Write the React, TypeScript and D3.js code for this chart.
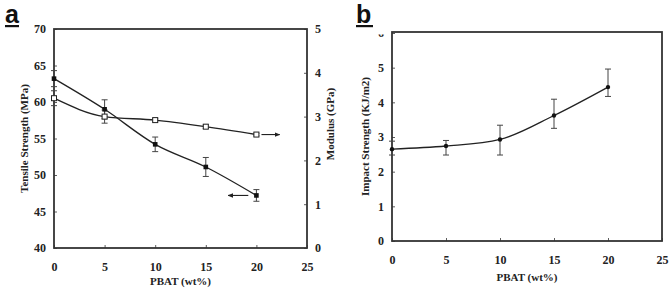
import React, { useRef, useEffect } from "react";
import * as d3 from "d3";

// PBAT content (wt%)
const pbat = [0, 5, 10, 15, 20];

// panel a: tensile strength (MPa, left axis) and modulus (GPa, right axis)
const tensile = [63.2, 59.0, 54.2, 51.1, 47.2];
const tensileErr = [1.1, 1.3, 1.0, 1.3, 0.8];
const modulus = [3.42, 3.0, 2.92, 2.77, 2.59];
const modulusErr = [0.17, 0.15, 0.04, 0.04, 0.03];

// panel b: impact strength (KJ/m2)
const impact = [2.65, 2.74, 2.93, 3.62, 4.44];
const impactHi = [2.88, 2.9, 3.34, 4.09, 4.96];
const impactLo = [2.48, 2.48, 2.48, 3.25, 4.17];

const pbatTicks = [0, 5, 10, 15, 20, 25];
const tensileTicks = [40, 45, 50, 55, 60, 65, 70];
const modulusTicks = [0, 1, 2, 3, 4, 5];
const impactTicks = [0, 1, 2, 3, 4, 5, 6];

const W = 672;
const H = 289;
const ink = "#222";
const frame = "#333";
const serif = "Liberation Serif";
const fmt = d3.format("d");

const App = () => {
  const svgRef = useRef<SVGSVGElement>(null);

  useEffect(() => {
    const svg = d3.select(svgRef.current).attr("width", W).attr("height", H);
    svg.selectAll("*").remove();
    svg.append("rect").attr("width", W).attr("height", H).attr("fill", "#fff");

    const defs = svg.append("defs");
    defs
      .append("marker")
      .attr("id", "head")
      .attr("viewBox", "0 0 10 10")
      .attr("refX", 9)
      .attr("refY", 5)
      .attr("markerWidth", 5)
      .attr("markerHeight", 5)
      .attr("orient", "auto")
      .append("path")
      .attr("d", "M0,1 L10,5 L0,9 Z")
      .attr("fill", ink);

    const panelLabel = (x: number, y: number, t: string, w: number) => {
      svg
        .append("text")
        .attr("x", x)
        .attr("y", y)
        .style("font-family", "Liberation Sans")
        .style("font-weight", "bold")
        .style("font-size", "25px")
        .attr("fill", "#111")
        .text(t);
      svg
        .append("rect")
        .attr("x", x)
        .attr("y", y + 2)
        .attr("width", w)
        .attr("height", 2.2)
        .attr("fill", "#111");
    };

    const frameBox = (g: any, x0: number, x1: number, y0: number, y1: number) => {
      g.append("rect")
        .attr("x", x0)
        .attr("y", y0)
        .attr("width", x1 - x0)
        .attr("height", y1 - y0)
        .attr("fill", "none")
        .attr("stroke", frame)
        .attr("stroke-width", 1.8);
    };

    const styleAxis = (g: any) => {
      g.attr("font-family", null).attr("font-size", null);
      g.select(".domain").remove();
      g.selectAll(".tick line").attr("stroke", frame).attr("stroke-width", 0.8);
      g.selectAll(".tick text")
        .style("font-family", serif)
        .style("font-weight", "bold")
        .style("font-size", "12px")
        .attr("fill", ink);
    };

    const errorBars = (
      g: any,
      xs: number[],
      lo: number[],
      hi: number[],
      x: any,
      y: any
    ) => {
      xs.forEach((v, i) => {
        const cx = x(v);
        g.append("line")
          .attr("x1", cx)
          .attr("x2", cx)
          .attr("y1", y(lo[i]))
          .attr("y2", y(hi[i]))
          .attr("stroke", "#444")
          .attr("stroke-width", 1);
        [lo[i], hi[i]].forEach((e) => {
          g.append("line")
            .attr("x1", cx - 3)
            .attr("x2", cx + 3)
            .attr("y1", y(e))
            .attr("y2", y(e))
            .attr("stroke", "#444")
            .attr("stroke-width", 1);
        });
      });
    };

    const axisTitle = (g: any, t: string, tx: number, ty: number, rot: number) =>
      g
        .append("text")
        .attr("transform", `translate(${tx},${ty}) rotate(${rot})`)
        .attr("text-anchor", "middle")
        .style("font-family", serif)
        .style("font-weight", "bold")
        .style("font-size", "11px")
        .attr("fill", ink)
        .text(t);

    // ---------- panel a ----------
    {
      const m = { l: 54, r: 307, t: 29, b: 248 };
      const g = svg.append("g");
      const x = d3.scaleLinear().domain([0, 25]).range([m.l, m.r]);
      const yL = d3.scaleLinear().domain([40, 70]).range([m.b, m.t]);
      const yR = d3.scaleLinear().domain([0, 5]).range([m.b, m.t]);

      const ax = g
        .append("g")
        .attr("transform", `translate(0,${m.b})`)
        .call(
          d3.axisBottom(x).tickValues(pbatTicks).tickFormat(fmt).tickSizeInner(-3).tickSizeOuter(0).tickPadding(14)
        );
      styleAxis(ax);
      const ayL = g
        .append("g")
        .attr("transform", `translate(${m.l},0)`)
        .call(
          d3.axisLeft(yL).tickValues(tensileTicks).tickFormat(fmt).tickSizeInner(-3).tickSizeOuter(0).tickPadding(8)
        );
      styleAxis(ayL);
      const ayR = g
        .append("g")
        .attr("transform", `translate(${m.r},0)`)
        .call(
          d3.axisRight(yR).tickValues(modulusTicks).tickFormat(fmt).tickSizeInner(-3).tickSizeOuter(0).tickPadding(8)
        );
      styleAxis(ayR);
      frameBox(g, m.l, m.r, m.t, m.b);

      const line = (y: any) =>
        d3
          .line<number>()
          .x((_, i) => x(pbat[i]))
          .y((d) => y(d))
          .curve(d3.curveMonotoneX);

      g.append("path")
        .attr("d", line(yR)(modulus))
        .attr("fill", "none")
        .attr("stroke", ink)
        .attr("stroke-width", 1.3);
      g.append("path")
        .attr("d", line(yL)(tensile))
        .attr("fill", "none")
        .attr("stroke", ink)
        .attr("stroke-width", 1.3);

      errorBars(
        g,
        pbat,
        modulus.map((v, i) => v - modulusErr[i]),
        modulus.map((v, i) => v + modulusErr[i]),
        x,
        yR
      );
      errorBars(
        g,
        pbat,
        tensile.map((v, i) => v - tensileErr[i]),
        tensile.map((v, i) => v + tensileErr[i]),
        x,
        yL
      );

      g.selectAll(".mod")
        .data(modulus)
        .enter()
        .append("rect")
        .attr("x", (_, i) => x(pbat[i]) - 2.5)
        .attr("y", (d) => yR(d) - 2.5)
        .attr("width", 5)
        .attr("height", 5)
        .attr("fill", "#fff")
        .attr("stroke", ink)
        .attr("stroke-width", 1);
      g.selectAll(".ts")
        .data(tensile)
        .enter()
        .append("rect")
        .attr("x", (_, i) => x(pbat[i]) - 2.3)
        .attr("y", (d) => yL(d) - 2.3)
        .attr("width", 4.6)
        .attr("height", 4.6)
        .attr("fill", "#111");

      // arrows pointing each series to its axis
      const last = pbat.length - 1;
      g.append("line")
        .attr("x1", x(20.5))
        .attr("x2", x(22.3))
        .attr("y1", yR(modulus[last]))
        .attr("y2", yR(modulus[last]))
        .attr("stroke", ink)
        .attr("stroke-width", 1.1)
        .attr("marker-end", "url(#head)");
      g.append("line")
        .attr("x1", x(19.2))
        .attr("x2", x(17.2))
        .attr("y1", yL(tensile[last]))
        .attr("y2", yL(tensile[last]))
        .attr("stroke", ink)
        .attr("stroke-width", 1.1)
        .attr("marker-end", "url(#head)");

      axisTitle(g, "PBAT (wt%)", (m.l + m.r) / 2, 285, 0);
      axisTitle(g, "Tensile Strength (MPa)", 28, (m.t + m.b) / 2, -90);
      axisTitle(g, "Modulus (GPa)", 334, 124, -90);

      panelLabel(5, 23, "a", 14);
    }

    // ---------- panel b ----------
    {
      const m = { l: 392, r: 662, t: 32, b: 241 };
      const g = svg.append("g");
      const x = d3.scaleLinear().domain([0, 25]).range([m.l, m.r]);
      const y = d3.scaleLinear().domain([0, 6]).range([m.b, m.t + 1]);

      const ax = g
        .append("g")
        .attr("transform", `translate(0,${m.b})`)
        .call(
          d3.axisBottom(x).tickValues(pbatTicks).tickFormat(fmt).tickSizeInner(-3).tickSizeOuter(0).tickPadding(14)
        );
      styleAxis(ax);
      const ay = g
        .append("g")
        .attr("transform", `translate(${m.l},0)`)
        .call(
          d3.axisLeft(y).tickValues(impactTicks).tickFormat(fmt).tickSizeInner(-3).tickSizeOuter(0).tickPadding(8)
        );
      styleAxis(ay);

      // only the lower edge of the top label shows
      const clip = defs.append("clipPath").attr("id", "topTick");
      clip.append("rect").attr("x", -20).attr("y", 1).attr("width", 20).attr("height", 5);
      ay.selectAll(".tick")
        .filter((d: any) => d === 6)
        .select("text")
        .attr("clip-path", "url(#topTick)");
      frameBox(g, m.l, m.r, m.t, m.b);

      g.append("path")
        .attr(
          "d",
          d3
            .line<number>()
            .x((_, i) => x(pbat[i]))
            .y((d) => y(d))
            .curve(d3.curveMonotoneX)(impact)
        )
        .attr("fill", "none")
        .attr("stroke", ink)
        .attr("stroke-width", 1.3);

      errorBars(g, pbat, impactLo, impactHi, x, y);

      g.selectAll(".imp")
        .data(impact)
        .enter()
        .append("circle")
        .attr("cx", (_, i) => x(pbat[i]))
        .attr("cy", (d) => y(d))
        .attr("r", 2.2)
        .attr("fill", "#111");

      axisTitle(g, "PBAT (wt%)", (m.l + m.r) / 2, 281, 0);
      axisTitle(g, "Impact Strength (KJ/m2)", 369, (m.t + m.b) / 2, -90);

      panelLabel(356, 23, "b", 17);
    }
  }, []);

  return (
    <svg
      ref={svgRef}
      style={{ position: "absolute", left: 0, top: 0, display: "block" }}
    ></svg>
  );
};

export default App;
